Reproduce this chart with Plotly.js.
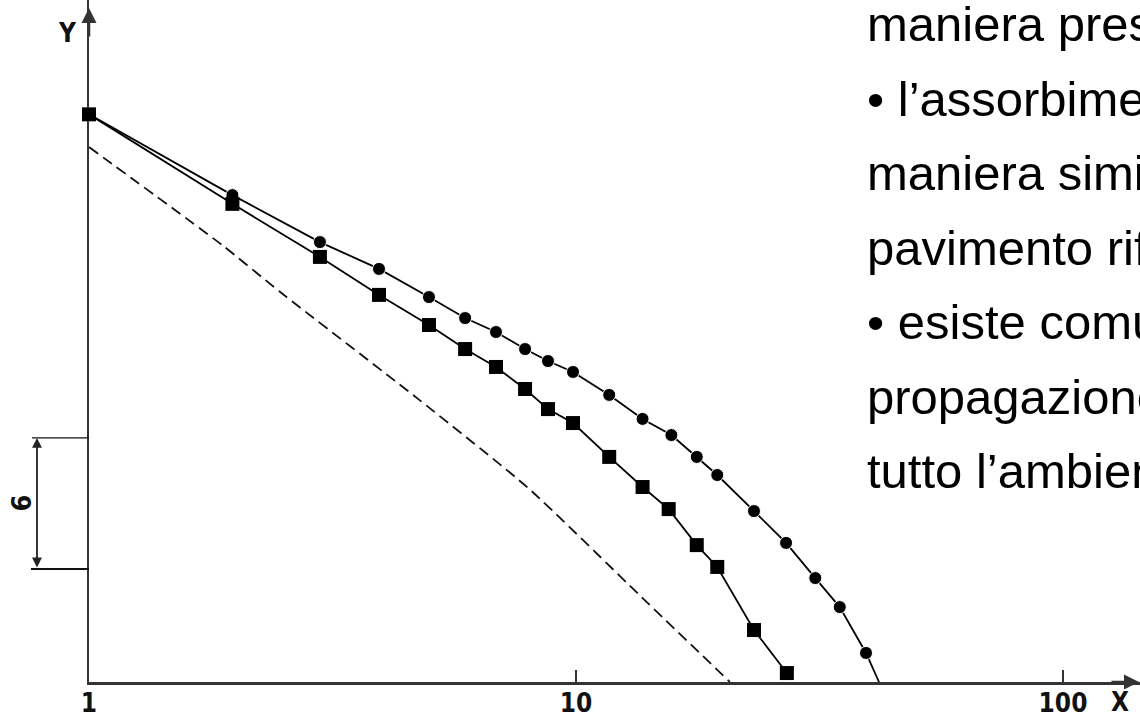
<!DOCTYPE html>
<html>
<head>
<meta charset="utf-8">
<script src="https://cdn.plot.ly/plotly-3.0.1.min.js"></script>
<style>
  html, body { margin: 0; padding: 0; background: #ffffff; overflow: hidden; }
  #chart { width: 1140px; height: 717px; }
</style>
</head>
<body>
<div id="chart"></div>
<script>
// Distance (log scale) and level in dB for the two measured curves
const circleX = [1, 1.97, 2.98, 3.94, 4.99, 5.92, 6.85, 7.86, 8.76, 9.86, 11.7, 13.7, 15.7, 17.7, 19.5, 23.2, 27.0, 31.0, 34.8, 39.4, 41.9];
const circleY = [26.0, 22.3, 20.15, 18.92, 17.63, 16.67, 16.03, 15.25, 14.70, 14.20, 13.15, 12.05, 11.31, 10.31, 9.48, 7.83, 6.37, 4.76, 3.43, 1.33, 0];

const squareX = [1, 1.97, 2.98, 3.94, 4.99, 5.92, 6.85, 7.86, 8.76, 9.86, 11.7, 13.7, 15.5, 17.7, 19.5, 23.2, 27.1];
const squareY = [26.0, 21.9, 19.47, 17.73, 16.35, 15.25, 14.43, 13.42, 12.50, 11.86, 10.31, 8.93, 7.92, 6.27, 5.27, 2.38, 0.41];

// Reference curve (dashed)
const refX = [1, 1.88, 2.47, 4.78, 7.97, 13.5, 20.7];
const refY = [24.5, 20.0, 17.86, 12.9, 8.89, 3.98, 0];

// Axis ticks
const tickVals = [1, 10, 100];
const tickText = ['1', '10', '100'];

// Scale bar: a 6 dB span
const scaleBottom = 5.18;
const scaleSpan = 6;
const scaleLabel = '6';

// Slide text running along the right edge (cut by the page border)
const sideLines = [
  'maniera pres',
  '• l’assorbime',
  'maniera simi',
  'pavimento rif',
  '• esiste comu',
  'propagazione',
  'tutto l’ambien'
];

// Geometry of the drawing area in pixels
const W = 1140, H = 717;
const M = {l: 89, r: 0, t: 0, b: 35};
const plotW = W - M.l - M.r, plotH = H - M.t - M.b;
const decadePx = 487;        // pixels per decade on the x axis
const dbPx = 21.833;         // pixels per dB on the y axis
const px = x => (x - M.l) / plotW;          // pixel x -> paper
const py = y => (H - M.b - y) / plotH;      // pixel y -> paper

// Circle markers are hidden on the final point where the curve meets the axis
const circleSizes = circleX.map((_, i) => i === circleX.length - 1 ? 0 : 13);

const traces = [
  {
    x: refX, y: refY, type: 'scatter', mode: 'lines',
    line: {color: '#111', width: 1.8, dash: '11px,6px', shape: 'spline', smoothing: 0.6},
    hoverinfo: 'skip', cliponaxis: false
  },
  {
    x: circleX, y: circleY, type: 'scatter', mode: 'lines+markers',
    line: {color: '#000', width: 1.8},
    marker: {symbol: 'circle', size: circleSizes, color: '#000', opacity: 1},
    cliponaxis: false
  },
  {
    x: squareX, y: squareY, type: 'scatter', mode: 'lines+markers',
    line: {color: '#000', width: 1.8},
    marker: {symbol: 'square', size: 14, color: '#000', opacity: 1},
    cliponaxis: false
  }
];

const axisFont = {family: 'DejaVu Sans Condensed, DejaVu Sans, sans-serif', size: 26, color: '#111'};

const annotations = [];

// Axis names
annotations.push({xref: 'paper', yref: 'paper', x: px(67), y: py(33), text: '<b>Y</b>',
  showarrow: false, font: axisFont, xanchor: 'center', yanchor: 'middle'});
annotations.push({xref: 'paper', yref: 'paper', x: px(1120), y: py(702), text: '<b>X</b>',
  showarrow: false, font: axisFont, xanchor: 'center', yanchor: 'middle'});

// Arrow tips on the axes
annotations.push({xref: 'paper', yref: 'paper', x: px(89), y: py(8), ax: 0, ay: 30,
  showarrow: true, arrowhead: 2, arrowsize: 1.2, arrowwidth: 2.5, arrowcolor: '#333', text: ''});
annotations.push({xref: 'paper', yref: 'paper', x: px(1140), y: py(682), ax: -30, ay: 0,
  showarrow: true, arrowhead: 2, arrowsize: 1.2, arrowwidth: 2.5, arrowcolor: '#333', text: ''});

// Scale bar with double-headed arrow
annotations.push({xref: 'paper', yref: 'y', x: px(37), y: scaleBottom + scaleSpan,
  axref: 'pixel', ayref: 'y', ax: 0, ay: scaleBottom,
  showarrow: true, arrowhead: 2, startarrowhead: 2, arrowside: 'end+start',
  arrowsize: 1.1, startarrowsize: 1.1, arrowwidth: 1.8, arrowcolor: '#222', text: ''});
annotations.push({xref: 'paper', yref: 'y', x: px(21), y: scaleBottom + scaleSpan / 2,
  text: '<b>' + scaleLabel + '</b>', textangle: -90, showarrow: false,
  font: {family: axisFont.family, size: 27, color: '#111'}, xanchor: 'center', yanchor: 'middle'});

// Right-hand slide text
const sideSize = 49;
sideLines.forEach((t, i) => {
  const baseline = 41 + 74.5 * i;
  annotations.push({xref: 'paper', yref: 'paper', x: px(865), y: py(baseline - 0.3465 * sideSize),
    text: t, showarrow: false, xanchor: 'left', yanchor: 'middle',
    font: {family: 'Liberation Sans, Arial, sans-serif', size: sideSize, color: '#000'}});
});

const shapes = [
  {type: 'line', xref: 'paper', yref: 'y', x0: px(32), x1: px(89),
   y0: scaleBottom + scaleSpan, y1: scaleBottom + scaleSpan, line: {color: '#111', width: 1.2}},
  {type: 'line', xref: 'paper', yref: 'y', x0: px(31), x1: px(89),
   y0: scaleBottom, y1: scaleBottom, line: {color: '#111', width: 2}}
];

const layout = {
  width: W, height: H,
  margin: M,
  paper_bgcolor: '#ffffff', plot_bgcolor: '#ffffff',
  showlegend: false,
  xaxis: {
    type: 'log', range: [0, plotW / decadePx],
    tickvals: tickVals, ticktext: tickText.map(t => '<b>' + t + '</b>'),
    ticks: 'inside', ticklen: 12, tickwidth: 1.5, tickcolor: '#333',
    tickfont: axisFont, ticklabelstandoff: -4,
    showgrid: false, zeroline: false,
    showline: true, linecolor: '#333', linewidth: 2.5,
    layer: 'below traces', fixedrange: true
  },
  yaxis: {
    range: [0, plotH / dbPx],
    showticklabels: false, ticks: '',
    showgrid: false, zeroline: false,
    showline: true, linecolor: '#333', linewidth: 2.5,
    layer: 'below traces', fixedrange: true
  },
  annotations: annotations,
  shapes: shapes
};

Plotly.newPlot('chart', traces, layout, {staticPlot: true, displayModeBar: false});
</script>
</body>
</html>
